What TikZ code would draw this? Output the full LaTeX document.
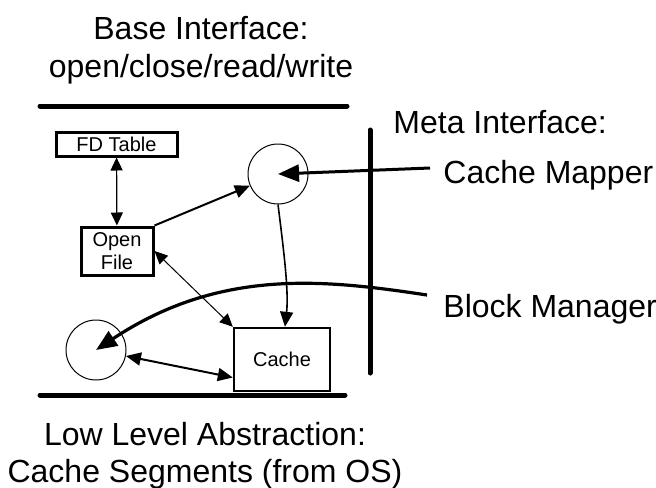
\documentclass[tikz,border=0pt]{standalone}
\usepackage{fontspec}
\setmainfont{Liberation Sans}
\usetikzlibrary{arrows.meta}
\begin{document}
\begin{tikzpicture}[x=0.5pt,y=-0.5pt,
  big/.style={font=\fontsize{16}{18}\selectfont, inner sep=0pt},
  boxn/.style={draw, line width=1.5pt, font=\fontsize{10}{11.5}\selectfont, inner sep=0pt, align=center},
  circ/.style={draw, circle, line width=0.5pt, minimum size=30pt, inner sep=0pt},
  bar/.style={line width=2.5pt, line cap=round},
  bigtip/.style={-{Triangle[length=10.5pt,width=8.5pt]}},
  midtip/.style={-{Triangle[length=7.5pt,width=6.5pt]}},
  dmid/.style={{Triangle[length=7.5pt,width=6.5pt]}-{Triangle[length=7.5pt,width=6.5pt]}},
  dthin/.style={{Triangle[length=6.5pt,width=6pt]}-{Triangle[length=6.5pt,width=6pt]}},
]
\useasboundingbox (0,0) rectangle (656,487);
% texts
\node[big, anchor=base] (base1) at (201,39) {Base Interface:};
\node[big, anchor=base] (base2) at (201,77) {open/close/read/write};
\node[big, anchor=base] (low1) at (205,445) {Low Level Abstraction:};
\node[big, anchor=base] (low2) at (205,482) {Cache Segments (from OS)};
\node[big, anchor=base west] (meta) at (393,133) {Meta Interface:};
\node[big, anchor=base west] (cmlab) at (443,183) {Cache Mapper};
\node[big, anchor=base west] (bmlab) at (443,317) {Block Manager};
% bars
\draw[bar] (40,106) -- (347,106);
\draw[bar] (40,395) -- (345,395);
\draw[bar] (370,130) -- (370,373);
% boxes and circles
\node[boxn, minimum width=60.5pt, minimum height=12pt] (fd) at (116.5,144) {FD Table};
\node[boxn, minimum width=36pt, minimum height=24pt] (of) at (117,251) {Open\\File};
\node[boxn, line width=1.2pt, minimum width=48pt, minimum height=31.5pt] (cache) at (282,359.5) {Cache};
\node[circ] (cm) at (278,174) {};
\node[circ] (lc) at (96,350) {};
\coordinate (cms) at (430,168);
\coordinate (bms) at (427,295);
% connectors
\draw[dthin, line width=0.6pt] (fd) -- (of);
\draw[midtip, line width=1pt] (of.north east) -- (cm);
\draw[bigtip, line width=1.5pt] (cms) -- (cm.center);
\draw[midtip, line width=0.8pt] (cm.south) .. controls (283,245) and (289,290) .. ([xshift=1.5pt]cache.north);
\draw[dthin, line width=0.5pt] (of.east) -- (cache.north west);
\draw[dmid, line width=1pt] (lc) -- ([yshift=-9pt]cache.west);
\draw[bigtip, line width=1.6pt] (bms) .. controls (327,280) and (221,267) .. (lc.center);
\end{tikzpicture}
\end{document}
